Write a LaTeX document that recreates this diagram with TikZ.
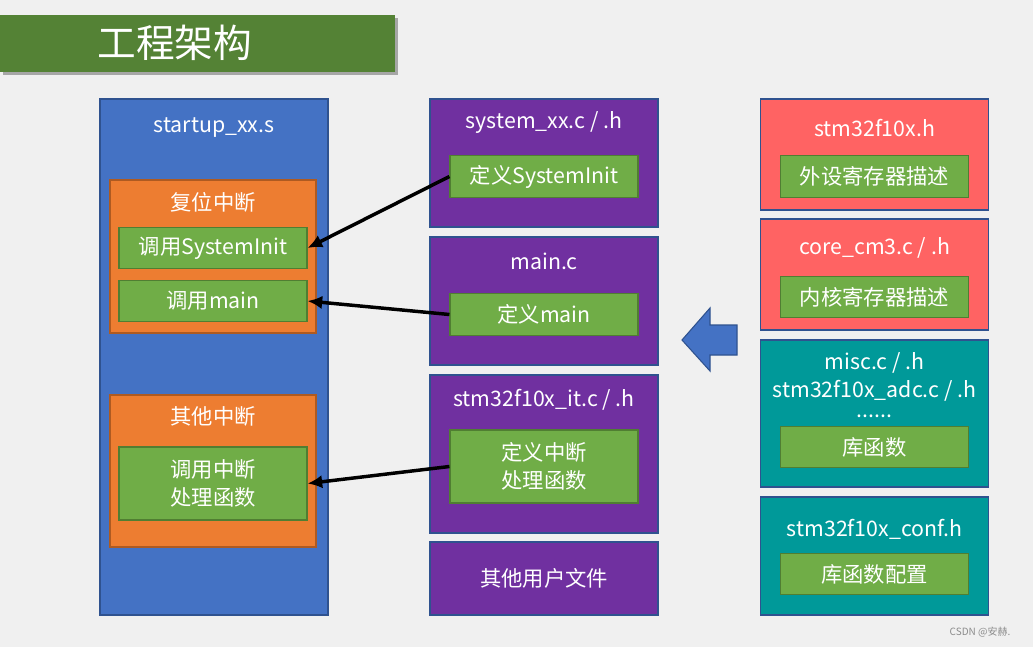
\documentclass[tikz,border=0pt]{standalone}
\usepackage{fontspec}
\setmainfont{Noto Sans CJK SC}
\usetikzlibrary{arrows.meta, positioning}

\definecolor{bggray}{HTML}{F0F0F0}
\definecolor{titlegreen}{HTML}{548235}
\definecolor{bluefill}{HTML}{4472C4}
\definecolor{edgeblue}{HTML}{2F528F}
\definecolor{orangefill}{HTML}{ED7D31}
\definecolor{orangeedge}{HTML}{AE5A21}
\definecolor{leafgreen}{HTML}{70AD47}
\definecolor{leafedge}{HTML}{507E32}
\definecolor{purplefill}{HTML}{7030A0}
\definecolor{redfill}{HTML}{FF6363}
\definecolor{tealfill}{HTML}{009999}

\begin{document}
\begin{tikzpicture}[
        x=0.75pt, y=-0.75pt,
        filebox/.style={draw=edgeblue, line width=0.8pt, inner sep=0pt, minimum width=171pt},
        groupbox/.style={draw=orangeedge, fill=orangefill, line width=0.8pt, inner sep=0pt, minimum width=154.5pt},
        leaf/.style={draw=leafedge, fill=leafgreen, line width=0.8pt, text=white, align=center,
            minimum width=141pt, minimum height=31pt, font=\fontsize{16}{21}\selectfont},
        caption/.style={text=white, align=center, inner sep=0pt, font=\fontsize{16}{21}\selectfont},
        arrow/.style={-{Latex[length=11pt, width=10pt]}, line width=2.6pt}
        ]
        \useasboundingbox[fill=bggray] (0,0) rectangle (1033,647);

        % title banner
        \fill[black!35] (3,18) rectangle (398,75);
        \fill[titlegreen] (0,15) rectangle (395,72);
        \node[caption, font=\fontsize{29}{34}\selectfont] (title) at (175,43) {工程架构};

        % startup file
        \node[filebox, fill=bluefill, minimum height=387pt] (startup) at (214,357) {};
        \node[caption] (startupname) at (214,128) {startup\_xx.s};
        \node[groupbox, minimum height=114.75pt] (reset) at (213,256.5) {};
        \node[caption] (resetname) at (213,202) {复位中断};
        \node[leaf] (callinit) at (213,248) {调用SystemInit};
        \node[leaf] (callmain) at (213,301) {调用main};
        \node[groupbox, minimum height=114pt] (otherirq) at (213,471) {};
        \node[caption] (otherirqname) at (213,416) {其他中断};
        \node[leaf, minimum height=54.75pt] (callirq) at (213,483.5) {调用中断\\处理函数};

        % user files
        \node[filebox, fill=purplefill, minimum height=96pt] (system) at (544,163) {};
        \node[caption] (systemname) at (544,123) {system\_xx.c / .h};
        \node[leaf] (definit) at (544,176.5) {定义SystemInit};
        \node[filebox, fill=purplefill, minimum height=96pt] (mainc) at (544,301) {};
        \node[caption] (maincname) at (544,261) {main.c};
        \node[leaf] (defmain) at (544,314.5) {定义main};
        \node[filebox, fill=purplefill, minimum height=118.5pt] (itfile) at (544,454) {};
        \node[caption] (itfilename) at (544,400) {stm32f10x\_it.c / .h};
        \node[leaf, minimum height=54.75pt] (defirq) at (544,466.5) {定义中断\\处理函数};
        \node[filebox, fill=purplefill, minimum height=54.75pt] (userfiles) at (544,578.5) {};
        \node[caption] (userfilesname) at (544,578) {其他用户文件};

        % library files
        \node[filebox, fill=redfill, minimum height=83.25pt] (devhead) at (874.5,154.5) {};
        \node[caption] (devheadname) at (874.5,128) {stm32f10x.h};
        \node[leaf] (periphreg) at (874.5,176.5) {外设寄存器描述};
        \node[filebox, fill=redfill, minimum height=83.25pt] (core) at (874.5,274.5) {};
        \node[caption] (corename) at (874.5,248) {core\_cm3.c / .h};
        \node[leaf] (corereg) at (874.5,297) {内核寄存器描述};
        \node[filebox, fill=tealfill, minimum height=110.25pt] (drivers) at (874.5,413.5) {};
        \node[caption] (driversname) at (874.5,385) {misc.c / .h\\stm32f10x\_adc.c / .h\\[-6pt]......};
        \node[leaf] (libfuncs) at (874.5,447) {库函数};
        \node[filebox, fill=tealfill, minimum height=88.5pt] (conf) at (874.5,556) {};
        \node[caption] (confname) at (874.5,529) {stm32f10x\_conf.h};
        \node[leaf] (libconf) at (874.5,574) {库函数配置};

        % block arrow
        \draw[edgeblue, fill=bluefill, line width=0.8pt]
            (682,340) -- (710,308) -- (710,325) -- (737,325) -- (737,355)
            -- (710,355) -- (710,371) -- cycle;

        \draw[arrow] (definit.west) -- (callinit.east);
        \draw[arrow] (defmain.west) -- (callmain.east);
        \draw[arrow] (defirq.west) -- (callirq.east);

        \node[text=black!45, inner sep=0pt, font=\fontsize{7.5}{9}\selectfont] (mark) at (980,632) {CSDN @安赫.};
    \end{tikzpicture}
\end{document}
